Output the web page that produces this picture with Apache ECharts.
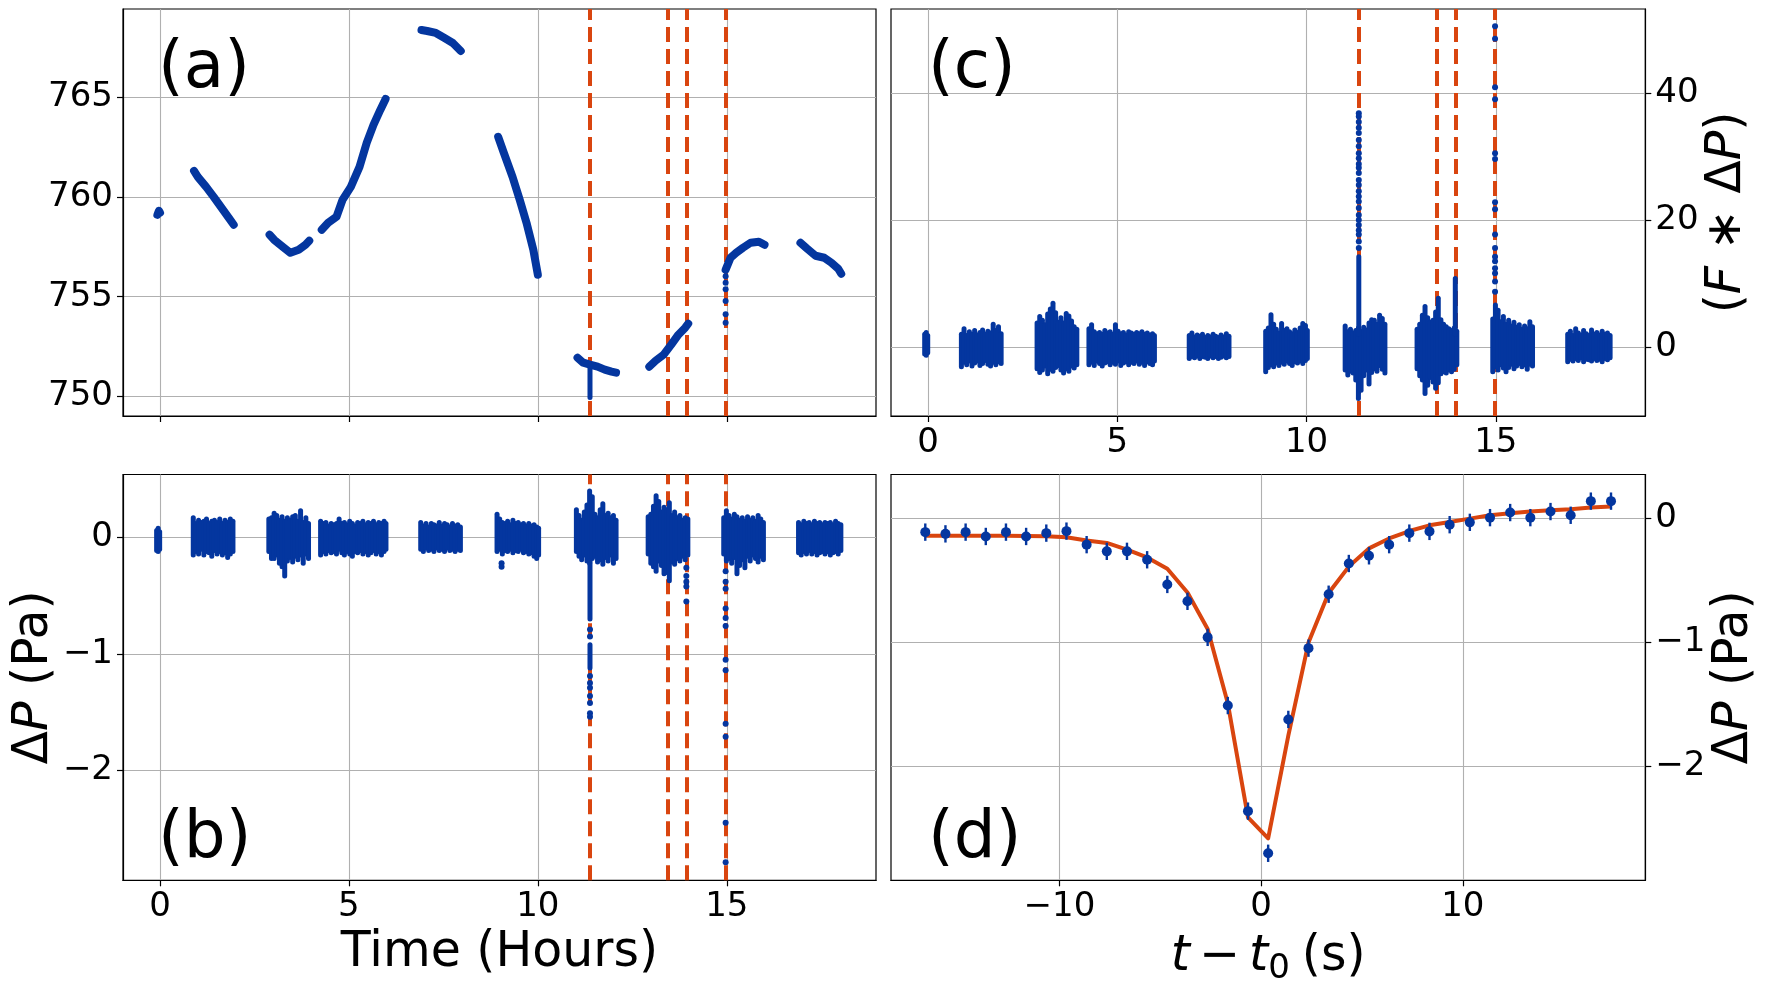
<!DOCTYPE html>
<html>
<head>
<meta charset="utf-8">
<script src="https://cdn.jsdelivr.net/npm/echarts@6/dist/echarts.min.js"></script>
<style>
  html, body { margin: 0; padding: 0; background: #fff; }
  #chart { width: 1767px; height: 989px; }
</style>
</head>
<body>
<div id="chart"></div>
<script>
const BLUE = '#04369f';
const RED = '#d9450f';
const GRID_GRAY = '#b0b0b0';
const FONT = 'DejaVu Sans';

// vertical dashed markers (hours)
const eventHours = [11.37, 13.45, 13.93, 14.98];

// (a) barometric pressure, one run per recording window [hour, hPa]
const pressureRuns = [
  [[-0.07, 759.1], [-0.03, 759.3], [0.0, 759.2]],
  [[0.9, 761.3], [1.0, 761.0], [1.22, 760.5], [1.42, 760.0], [1.63, 759.45], [1.82, 758.95], [1.95, 758.6]],
  [[2.9, 758.1], [3.02, 757.85], [3.25, 757.5], [3.45, 757.2], [3.67, 757.35], [3.85, 757.6], [3.95, 757.8]],
  [[4.28, 758.35], [4.45, 758.7], [4.67, 759.0], [4.83, 759.85], [5.05, 760.5], [5.28, 761.5], [5.47, 762.7], [5.65, 763.6], [5.83, 764.35], [5.97, 764.9]],
  [[6.92, 768.35], [7.07, 768.3], [7.3, 768.2], [7.53, 767.95], [7.75, 767.7], [7.96, 767.3]],
  [[8.95, 763.0], [9.1, 762.2], [9.33, 761.0], [9.52, 759.85], [9.7, 758.7], [9.88, 757.35], [10.0, 756.1]],
  [[11.05, 751.95], [11.2, 751.7], [11.38, 751.6], [11.58, 751.5], [11.77, 751.35], [11.95, 751.25], [12.07, 751.2]],
  [[12.95, 751.5], [13.12, 751.8], [13.33, 752.1], [13.53, 752.6], [13.72, 753.1], [13.9, 753.45], [13.98, 753.65]],
  [[14.97, 756.35], [15.1, 756.95], [15.25, 757.2], [15.43, 757.45], [15.63, 757.7], [15.85, 757.75], [16.0, 757.6]],
  [[16.95, 757.7], [17.13, 757.4], [17.35, 757.05], [17.58, 756.95], [17.77, 756.7], [17.95, 756.4], [18.03, 756.15]],
];
const pressureDips = [[11.38, 749.95, 751.6]];
const pressureStray = [[14.97, 756.03], [14.97, 755.7], [14.97, 755.37], [14.97, 754.78], [14.97, 754.12], [14.97, 753.7]];

// (b) high-passed pressure, envelope of each time slice [hour, low, high] in Pa
const deltaPBands = [
  [-0.09, -0.11, 0.06], [-0.05, -0.12, 0.08], [-0.01, -0.10, 0.05],
  [0.88, -0.15, 0.17], [0.95, -0.12, 0.12], [1.02, -0.14, 0.15], [1.09, -0.10, 0.13], [1.16, -0.15, 0.14], [1.23, -0.12, 0.16],
  [1.30, -0.13, 0.12], [1.37, -0.16, 0.14], [1.44, -0.11, 0.15], [1.51, -0.14, 0.13], [1.58, -0.12, 0.16], [1.65, -0.15, 0.12],
  [1.72, -0.13, 0.15], [1.79, -0.17, 0.13], [1.86, -0.14, 0.16], [1.93, -0.12, 0.14],
  [2.88, -0.12, 0.16], [2.95, -0.18, 0.17], [3.02, -0.18, 0.21], [3.09, -0.15, 0.19], [3.16, -0.22, 0.15], [3.23, -0.25, 0.18],
  [3.30, -0.33, 0.14], [3.37, -0.20, 0.17], [3.44, -0.17, 0.15], [3.51, -0.21, 0.18], [3.58, -0.16, 0.19], [3.65, -0.19, 0.14],
  [3.72, -0.15, 0.23], [3.79, -0.22, 0.13], [3.86, -0.14, 0.17], [3.93, -0.18, 0.12],
  [4.25, -0.15, 0.14], [4.32, -0.12, 0.12], [4.39, -0.14, 0.13], [4.46, -0.11, 0.10], [4.53, -0.13, 0.12], [4.60, -0.12, 0.11],
  [4.67, -0.14, 0.12], [4.74, -0.10, 0.16], [4.81, -0.13, 0.12], [4.88, -0.15, 0.13], [4.95, -0.12, 0.11], [5.02, -0.14, 0.14],
  [5.09, -0.16, 0.12], [5.16, -0.12, 0.10], [5.23, -0.13, 0.13], [5.30, -0.11, 0.12], [5.37, -0.14, 0.14], [5.44, -0.12, 0.11],
  [5.51, -0.15, 0.13], [5.58, -0.13, 0.12], [5.65, -0.11, 0.14], [5.72, -0.14, 0.11], [5.79, -0.12, 0.13], [5.86, -0.15, 0.12],
  [5.93, -0.12, 0.14], [5.98, -0.10, 0.12],
  [6.90, -0.10, 0.13], [6.97, -0.12, 0.10], [7.04, -0.09, 0.12], [7.11, -0.11, 0.09], [7.18, -0.10, 0.12], [7.25, -0.12, 0.11],
  [7.32, -0.09, 0.10], [7.39, -0.11, 0.13], [7.46, -0.10, 0.10], [7.53, -0.12, 0.12], [7.60, -0.09, 0.11], [7.67, -0.11, 0.09],
  [7.74, -0.10, 0.12], [7.81, -0.12, 0.10], [7.88, -0.10, 0.11], [7.95, -0.11, 0.09],
  [8.92, -0.12, 0.20], [8.99, -0.10, 0.16], [9.06, -0.14, 0.13], [9.13, -0.11, 0.12], [9.20, -0.12, 0.14], [9.27, -0.10, 0.11],
  [9.34, -0.13, 0.15], [9.41, -0.11, 0.12], [9.48, -0.12, 0.13], [9.55, -0.10, 0.11], [9.62, -0.13, 0.12], [9.69, -0.12, 0.10],
  [9.76, -0.14, 0.12], [9.83, -0.13, 0.10], [9.90, -0.16, 0.11], [9.97, -0.18, 0.09], [10.02, -0.15, 0.08],
  [11.02, -0.12, 0.24], [11.09, -0.16, 0.19], [11.16, -0.19, 0.15], [11.23, -0.15, 0.22], [11.30, -0.20, 0.28], [11.37, -0.22, 0.40],
  [11.44, -0.18, 0.35], [11.51, -0.16, 0.20], [11.58, -0.21, 0.17], [11.65, -0.19, 0.24], [11.72, -0.23, 0.29], [11.79, -0.17, 0.19],
  [11.86, -0.20, 0.21], [11.93, -0.15, 0.17], [12.00, -0.22, 0.19], [12.07, -0.18, 0.15],
  [11.38, -0.70, -0.20], [11.38, -1.12, -0.92],
  [12.92, -0.14, 0.18], [12.99, -0.22, 0.20], [13.06, -0.25, 0.27], [13.13, -0.29, 0.36], [13.20, -0.20, 0.31], [13.27, -0.24, 0.22],
  [13.34, -0.31, 0.26], [13.41, -0.30, 0.24], [13.48, -0.37, 0.30], [13.55, -0.21, 0.19], [13.62, -0.23, 0.22], [13.69, -0.18, 0.17],
  [13.76, -0.20, 0.19], [13.83, -0.16, 0.15], [13.90, -0.19, 0.17], [13.97, -0.15, 0.16],
  [14.92, -0.14, 0.17], [14.99, -0.20, 0.23], [15.06, -0.18, 0.19], [15.13, -0.22, 0.16], [15.20, -0.17, 0.20], [15.27, -0.31, 0.18],
  [15.34, -0.24, 0.15], [15.41, -0.19, 0.17], [15.48, -0.26, 0.14], [15.55, -0.16, 0.18], [15.62, -0.20, 0.15], [15.69, -0.15, 0.17],
  [15.76, -0.18, 0.14], [15.83, -0.21, 0.19], [15.90, -0.16, 0.16], [15.97, -0.19, 0.13],
  [16.90, -0.13, 0.13], [16.97, -0.15, 0.11], [17.04, -0.12, 0.14], [17.11, -0.14, 0.12], [17.18, -0.11, 0.13], [17.25, -0.14, 0.11],
  [17.32, -0.12, 0.14], [17.39, -0.15, 0.12], [17.46, -0.13, 0.13], [17.53, -0.12, 0.11], [17.60, -0.14, 0.13], [17.67, -0.12, 0.12],
  [17.74, -0.15, 0.13], [17.81, -0.13, 0.11], [17.88, -0.12, 0.14], [17.95, -0.14, 0.12], [18.02, -0.11, 0.11],
];
const deltaPStray = [
  [9.04, -0.22], [9.04, -0.25],
  [11.38, -0.79], [11.38, -0.85], [11.38, -1.19], [11.38, -1.25], [11.38, -1.29], [11.38, -1.36], [11.38, -1.42], [11.38, -1.51], [11.38, -1.54],
  [13.93, -0.26], [13.93, -0.33], [13.93, -0.38], [13.93, -0.42], [13.93, -0.55],
  [14.97, -0.29], [14.97, -0.38], [14.97, -0.44], [14.97, -0.61], [14.97, -0.69], [14.97, -0.76], [14.97, -1.05], [14.97, -1.14],
  [14.97, -1.60], [14.97, -1.71], [14.97, -2.45], [14.97, -2.79],
];

// (c) matched-filter output F * dP, envelope per slice [hour, low, high]
const filteredBands = [
  [-0.09, -1.1, 2.0], [-0.05, -1.3, 2.3], [-0.01, -0.9, 1.8],
  [0.88, -3.1, 2.0], [0.95, -2.4, 2.9], [1.02, -2.8, 1.8], [1.09, -2.2, 2.4], [1.16, -3.0, 2.0], [1.23, -2.5, 2.6],
  [1.30, -2.2, 1.9], [1.37, -2.9, 2.3], [1.44, -2.6, 2.7], [1.51, -2.1, 2.0], [1.58, -2.7, 2.5], [1.65, -3.0, 2.2],
  [1.72, -2.4, 3.6], [1.79, -2.8, 2.6], [1.86, -2.3, 3.2], [1.93, -2.6, 2.1],
  [2.88, -3.4, 3.8], [2.95, -4.0, 4.8], [3.02, -3.6, 4.2], [3.09, -3.0, 3.5], [3.16, -4.2, 5.2], [3.23, -3.5, 6.0],
  [3.30, -3.8, 6.9], [3.37, -3.2, 5.4], [3.44, -2.9, 3.9], [3.51, -3.6, 4.6], [3.58, -4.1, 3.8], [3.65, -3.4, 5.3],
  [3.72, -3.8, 4.9], [3.79, -3.0, 4.1], [3.86, -3.3, 3.2], [3.93, -2.8, 2.8],
  [4.25, -2.8, 2.9], [4.32, -2.4, 3.5], [4.39, -2.9, 2.4], [4.46, -2.2, 2.1], [4.53, -2.6, 2.3], [4.60, -3.0, 2.0],
  [4.67, -2.5, 2.6], [4.74, -2.3, 2.2], [4.81, -2.8, 2.4], [4.88, -2.4, 2.0], [4.95, -2.7, 3.5], [5.02, -2.2, 2.5],
  [5.09, -2.9, 2.1], [5.16, -2.5, 2.3], [5.23, -2.3, 1.9], [5.30, -2.8, 2.4], [5.37, -2.4, 2.2], [5.44, -2.6, 2.0],
  [5.51, -2.2, 2.3], [5.58, -2.7, 2.1], [5.65, -2.4, 2.4], [5.72, -2.9, 2.0], [5.79, -2.3, 2.2], [5.86, -2.6, 1.9],
  [5.93, -2.8, 2.1], [5.98, -2.2, 1.8],
  [6.90, -1.8, 1.8], [6.97, -1.5, 2.2], [7.04, -1.7, 1.6], [7.11, -1.4, 1.9], [7.18, -1.8, 1.7], [7.25, -1.5, 2.0],
  [7.32, -1.6, 1.5], [7.39, -1.8, 1.8], [7.46, -1.4, 1.6], [7.53, -1.7, 2.0], [7.60, -1.5, 1.7], [7.67, -1.8, 1.5],
  [7.74, -1.6, 1.9], [7.81, -1.4, 1.6], [7.88, -1.7, 2.1], [7.95, -1.5, 1.7],
  [8.92, -3.9, 2.5], [8.99, -3.2, 3.0], [9.06, -2.8, 5.1], [9.13, -3.1, 3.6], [9.20, -2.5, 2.8], [9.27, -2.9, 2.2],
  [9.34, -2.4, 3.7], [9.41, -2.7, 2.6], [9.48, -2.2, 2.9], [9.55, -2.6, 2.4], [9.62, -2.9, 2.1], [9.69, -2.3, 2.7],
  [9.76, -2.5, 2.3], [9.83, -2.2, 3.0], [9.90, -2.6, 3.7], [9.97, -2.1, 3.4], [10.02, -1.8, 2.6],
  [11.02, -3.6, 3.3], [11.09, -4.4, 2.4], [11.16, -3.8, 2.8], [11.23, -4.1, 2.2], [11.30, -5.2, 2.6], [11.37, -8.1, 3.0],
  [11.44, -6.8, 2.5], [11.51, -4.5, 3.1], [11.58, -3.6, 2.7], [11.65, -5.8, 3.8], [11.72, -4.0, 4.3], [11.79, -3.4, 4.2],
  [11.86, -3.8, 3.6], [11.93, -2.9, 5.0], [12.00, -3.5, 4.5], [12.07, -4.1, 3.6],
  [11.38, 2.0, 14.2],
  [12.92, -3.4, 2.8], [12.99, -4.5, 3.6], [13.06, -5.2, 5.0], [13.13, -7.3, 6.4], [13.20, -6.0, 4.6], [13.27, -4.8, 3.9],
  [13.34, -5.5, 4.2], [13.41, -6.5, 5.5], [13.48, -5.6, 7.7], [13.55, -4.2, 4.3], [13.62, -3.9, 3.6], [13.69, -4.1, 3.2],
  [13.76, -3.6, 2.9], [13.83, -3.9, 2.6], [13.90, -3.5, 3.0], [13.97, -2.8, 2.5],
  [13.93, 2.0, 10.8],
  [14.92, -3.9, 4.4], [14.99, -3.1, 6.6], [15.06, -3.6, 5.8], [15.13, -2.8, 4.0], [15.20, -3.3, 4.8], [15.27, -3.9, 3.6],
  [15.34, -3.2, 4.2], [15.41, -2.7, 3.3], [15.48, -3.4, 3.9], [15.55, -3.0, 3.1], [15.62, -2.6, 3.5], [15.69, -3.1, 2.8],
  [15.76, -2.8, 3.3], [15.83, -3.5, 2.9], [15.90, -2.7, 4.0], [15.97, -3.0, 3.2],
  [16.90, -2.3, 2.0], [16.97, -1.9, 2.5], [17.04, -2.2, 1.8], [17.11, -1.8, 2.9], [17.18, -2.1, 2.2], [17.25, -1.7, 1.9],
  [17.32, -2.3, 2.6], [17.39, -1.9, 2.1], [17.46, -2.0, 1.8], [17.53, -2.2, 2.7], [17.60, -1.8, 2.0], [17.67, -2.1, 2.3],
  [17.74, -1.9, 1.9], [17.81, -2.3, 2.5], [17.88, -1.8, 2.0], [17.95, -2.0, 2.2], [18.02, -1.7, 1.8],
];
const filteredStray = [
  [11.38, 36.8], [11.38, 36.3], [11.38, 35.4], [11.38, 34.5], [11.38, 33.7], [11.38, 32.6], [11.38, 31.6], [11.38, 30.5],
  [11.38, 29.7], [11.38, 28.8], [11.38, 28.2], [11.38, 27.4], [11.38, 26.3], [11.38, 25.5], [11.38, 24.5], [11.38, 23.7],
  [11.38, 22.9], [11.38, 21.9], [11.38, 20.8], [11.38, 20.0], [11.38, 19.2], [11.38, 18.4], [11.38, 17.7], [11.38, 16.6], [11.38, 15.6],
  [14.98, 50.5], [14.98, 48.5], [14.98, 40.9], [14.98, 39.0], [14.98, 30.5], [14.98, 29.6], [14.98, 22.8], [14.98, 21.7],
  [14.98, 17.7], [14.98, 15.6], [14.98, 14.2], [14.98, 13.5], [14.98, 12.4], [14.98, 11.6], [14.98, 10.3], [14.98, 8.7],
];

// (d) stacked event profile
const offsetSec = [-16.65, -15.65, -14.65, -13.65, -12.65, -11.65, -10.65, -9.65, -8.65, -7.65, -6.65, -5.65,
  -4.65, -3.65, -2.65, -1.65, -0.65, 0.35, 1.35, 2.35, 3.35, 4.35, 5.35, 6.35, 7.35, 8.35, 9.35, 10.35,
  11.35, 12.35, 13.35, 14.35, 15.35, 16.35, 17.35];
const meanDeltaP = [-0.109, -0.123, -0.109, -0.144, -0.109, -0.144, -0.117, -0.101, -0.21, -0.264, -0.264, -0.332,
  -0.531, -0.667, -0.958, -1.508, -2.36, -2.70, -1.62, -1.045, -0.61, -0.362, -0.30, -0.21, -0.117, -0.103, -0.049, -0.030,
  0.008, 0.049, 0.008, 0.057, 0.027, 0.141, 0.141];
const errDeltaP = [0.07, 0.07, 0.07, 0.07, 0.07, 0.07, 0.07, 0.07, 0.07, 0.07, 0.07, 0.07,
  0.07, 0.07, 0.07, 0.07, 0.07, 0.07, 0.07, 0.07, 0.07, 0.07, 0.07, 0.07, 0.07, 0.07, 0.07, 0.07,
  0.07, 0.07, 0.07, 0.07, 0.07, 0.07, 0.07];
const fitDeltaP = [-0.139, -0.139, -0.139, -0.139, -0.139, -0.14, -0.142, -0.15, -0.177, -0.196, -0.25, -0.313,
  -0.405, -0.596, -0.89, -1.49, -2.41, -2.58, -1.75, -1.0, -0.60, -0.387, -0.24, -0.16, -0.10, -0.054, -0.027, 0.0,
  0.027, 0.044, 0.057, 0.068, 0.076, 0.09, 0.098];

const panelTags = ['(a)', '(b)', '(c)', '(d)'];

const tickFmt = (v) => (v < 0 ? '\u2212' + Math.abs(v) : String(v));

const makeAxis = (gridIndex, min, max, splitNumber, ticks, extra = {}) => ({
  type: 'value',
  gridIndex,
  min,
  max,
  splitNumber,
  axisLine: { show: true, onZero: false, lineStyle: { color: '#000', width: 1.2 } },
  axisTick: { show: true, length: 6, customValues: ticks, lineStyle: { color: '#000', width: 1.2 } },
  axisLabel: {
    show: true, customValues: ticks, formatter: tickFmt,
    fontSize: 34, fontFamily: FONT, color: '#000', margin: 10,
  },
  splitLine: { show: true, lineStyle: { color: GRID_GRAY, width: 1.1 } },
  ...extra,
});

const nameStyle = {
  fontSize: 49, fontFamily: FONT, color: '#000',
  rich: {
    i: { fontSize: 49, fontFamily: FONT, fontStyle: 'italic', color: '#000' },
    m: { fontSize: 49, fontFamily: FONT, color: '#000', padding: [0, 9, 0, 9] },
    s: { fontSize: 34, fontFamily: FONT, color: '#000', padding: [24, 12, 0, 0] },
  },
};

const renderBand = (width) => (params, api) => {
  const lo = api.coord([api.value(0), api.value(1)]);
  const hi = api.coord([api.value(0), api.value(2)]);
  return {
    type: 'line',
    shape: { x1: lo[0], y1: lo[1], x2: hi[0], y2: hi[1] },
    style: { stroke: BLUE, lineWidth: width, lineCap: 'round' },
  };
};

const renderErr = (params, api) => {
  const m = api.value(1);
  const e = api.value(2);
  const lo = api.coord([api.value(0), m - e]);
  const hi = api.coord([api.value(0), m + e]);
  return {
    type: 'line',
    shape: { x1: lo[0], y1: lo[1], x2: hi[0], y2: hi[1] },
    style: { stroke: BLUE, lineWidth: 2.4 },
  };
};

const eventMarks = (gridIndex) => ({
  type: 'line',
  xAxisIndex: gridIndex,
  yAxisIndex: gridIndex,
  data: [],
  z: 1,
  markLine: {
    silent: true,
    z: 1,
    symbol: ['none', 'none'],
    label: { show: false },
    lineStyle: { color: RED, width: 4, type: [15, 7] },
    data: eventHours.map((h) => ({ xAxis: h })),
  },
});

const stray = (gridIndex, data) => ({
  type: 'scatter',
  xAxisIndex: gridIndex,
  yAxisIndex: gridIndex,
  symbolSize: 6,
  itemStyle: { color: BLUE, opacity: 1 },
  z: 3,
  data,
});

const bands = (gridIndex, data, width) => ({
  type: 'custom',
  xAxisIndex: gridIndex,
  yAxisIndex: gridIndex,
  renderItem: renderBand(width),
  encode: { x: 0, y: [1, 2] },
  z: 3,
  data,
});

const chart = echarts.init(document.getElementById('chart'), null, { renderer: 'canvas' });

const gridBox = { show: true, borderColor: '#000', borderWidth: 1.2, backgroundColor: 'transparent', outerBoundsMode: 'none' };

chart.setOption({
  animation: false,
  backgroundColor: '#fff',
  grid: [
    { ...gridBox, left: 123, top: 9, width: 753, height: 407 },
    { ...gridBox, left: 123, top: 474.5, width: 753, height: 405.8 },
    { ...gridBox, left: 891, top: 9, width: 754.3, height: 407 },
    { ...gridBox, left: 891, top: 474.5, width: 754.3, height: 405.8 },
  ],
  xAxis: [
    makeAxis(0, -0.98, 18.95, 4, [0, 5, 10, 15], { axisLabel: { show: false } }),
    makeAxis(1, -0.98, 18.95, 4, [0, 5, 10, 15], {
      name: 'Time (Hours)', nameLocation: 'middle', nameGap: 48, nameTextStyle: nameStyle,
    }),
    makeAxis(2, -0.98, 18.95, 4, [0, 5, 10, 15]),
    makeAxis(3, -18.35, 19.05, 4, [-10, 0, 10], {
      name: '{i|t}{m|\u2212}{i|t}{s|0}(s)', nameLocation: 'middle', nameGap: 48, nameTextStyle: nameStyle,
    }),
  ],
  yAxis: [
    makeAxis(0, 749.03, 769.4, 4, [750, 755, 760, 765]),
    makeAxis(1, -2.944, 0.542, 3, [-2, -1, 0], {
      name: '\u0394{i|P} (Pa)', nameLocation: 'middle', nameRotate: 90, nameGap: 64, nameTextStyle: nameStyle,
    }),
    makeAxis(2, -10.85, 53.2, 3, [0, 20, 40], {
      position: 'right',
      name: '({i|F} \u2217 \u0394{i|P})', nameLocation: 'middle', nameRotate: 90, nameGap: 56, nameTextStyle: nameStyle,
    }),
    makeAxis(3, -2.918, 0.356, 3, [-2, -1, 0], {
      position: 'right',
      name: '\u0394{i|P} (Pa)', nameLocation: 'middle', nameRotate: 90, nameGap: 62, nameTextStyle: nameStyle,
    }),
  ],
  graphic: panelTags.map((tag, i) => ({
    type: 'text',
    x: i < 2 ? 158 : 928,
    y: i % 2 === 0 ? 70 : 840,
    z: 10,
    style: { text: tag, fontSize: 66, fontFamily: FONT, fill: '#000', align: 'left', verticalAlign: 'middle' },
  })),
  series: [
    eventMarks(0),
    ...pressureRuns.map((run) => ({
      type: 'line',
      xAxisIndex: 0,
      yAxisIndex: 0,
      data: run,
      showSymbol: false,
      z: 3,
      lineStyle: { color: BLUE, width: 8, cap: 'round', join: 'round' },
    })),
    bands(0, pressureDips, 5),
    stray(0, pressureStray),

    eventMarks(1),
    bands(1, deltaPBands, 5),
    stray(1, deltaPStray),

    eventMarks(2),
    bands(2, filteredBands, 5),
    stray(2, filteredStray),

    {
      type: 'line',
      xAxisIndex: 3,
      yAxisIndex: 3,
      data: offsetSec.map((t, i) => [t, fitDeltaP[i]]),
      showSymbol: false,
      z: 2,
      lineStyle: { color: RED, width: 4, join: 'round' },
    },
    {
      type: 'custom',
      xAxisIndex: 3,
      yAxisIndex: 3,
      renderItem: renderErr,
      encode: { x: 0, y: 1 },
      z: 3,
      data: offsetSec.map((t, i) => [t, meanDeltaP[i], errDeltaP[i]]),
    },
    {
      type: 'scatter',
      xAxisIndex: 3,
      yAxisIndex: 3,
      symbolSize: 10,
      itemStyle: { color: BLUE, opacity: 1 },
      z: 4,
      data: offsetSec.map((t, i) => [t, meanDeltaP[i]]),
    },
  ],
});

window.addEventListener('resize', () => chart.resize());
</script>
</body>
</html>
